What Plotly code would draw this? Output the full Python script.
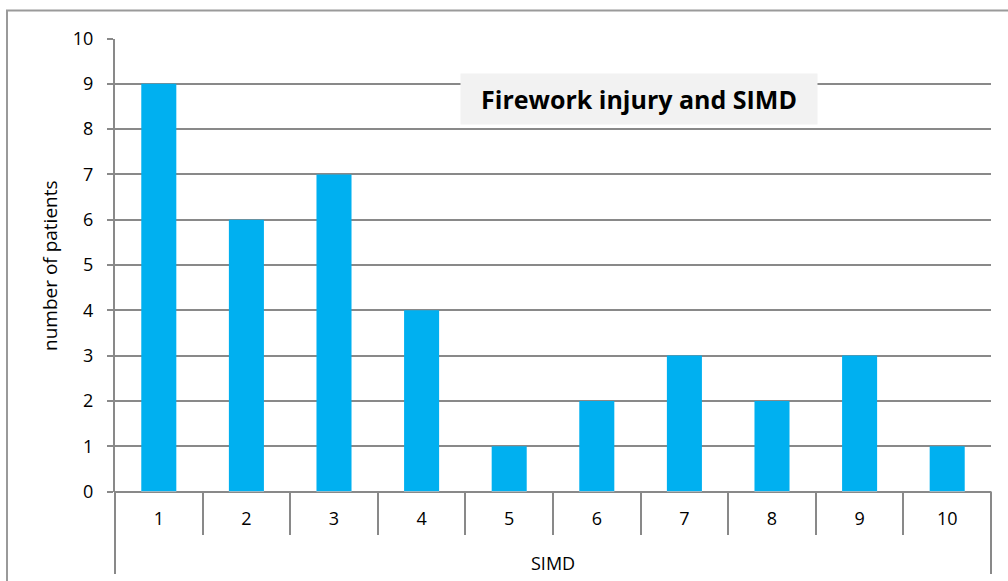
import plotly.graph_objects as go

# SIMD decile vs number of firework-injury patients
simd = ["1", "2", "3", "4", "5", "6", "7", "8", "9", "10"]
patients = [9, 6, 7, 4, 1, 2, 3, 2, 3, 1]
y_ticks = list(range(0, 11))

W, H = 1008, 581
GRID = "#898989"
FONT = "Open Sans, Liberation Sans, Arial, sans-serif"

# plot area in pixels
px_left, px_right = 115, 991
px_top, px_bottom = 38.5, 491.5


def fx(p):
    return p / W


def fy(p):
    return 1 - p / H


fig = go.Figure()
fig.add_trace(go.Bar(
    x=simd, y=patients,
    marker=dict(color="#00B0F0", line=dict(width=0)),
    width=0.4,
))
# invisible companion trace so the boundary-tick axis has data
fig.add_trace(go.Bar(x=simd, y=[0] * len(simd), xaxis="x2",
                     marker=dict(color="rgba(0,0,0,0)"), showlegend=False,
                     hoverinfo="skip"))

fig.update_layout(
    width=W, height=H,
    margin=dict(l=0, r=0, t=0, b=0, autoexpand=False),
    paper_bgcolor="white", plot_bgcolor="white",
    showlegend=False,
    font=dict(family=FONT, size=18, color="#000000"),
    xaxis=dict(
        domain=[fx(px_left), fx(px_right)],
        type="category", categoryorder="array", categoryarray=simd,
        showgrid=False, zeroline=False, showline=False,
        ticks="", ticklabelstandoff=14, automargin=False,
        tickfont=dict(size=18, family=FONT),
        anchor="y",
    ),
    xaxis2=dict(
        domain=[fx(px_left), fx(px_right)],
        type="category", categoryorder="array", categoryarray=simd,
        matches="x", overlaying="x", anchor="y",
        showgrid=False, zeroline=False, showline=False,
        showticklabels=False, automargin=False,
        ticks="outside", tickson="boundaries", ticklen=42,
        tickwidth=2, tickcolor=GRID,
    ),
    yaxis=dict(
        domain=[fy(px_bottom), fy(px_top)],
        range=[0, 10], tickvals=y_ticks,
        showgrid=True, gridcolor=GRID, gridwidth=2,
        zeroline=True, zerolinecolor=GRID, zerolinewidth=2,
        showline=True, linecolor=GRID, linewidth=2,
        ticks="outside", ticklen=6, tickwidth=2, tickcolor=GRID,
        ticklabelstandoff=10, automargin=False,
        tickfont=dict(size=18, family=FONT),
    ),
    bargap=0.6,
)

shapes = [
    # outer chart border
    dict(type="rect", xref="paper", yref="paper",
         x0=fx(7), x1=1.05, y0=-0.05, y1=fy(10.5),
         line=dict(color="#9a9a9a", width=2), fillcolor="rgba(0,0,0,0)",
         layer="below"),
    # category-axis frame below the plot
    dict(type="line", xref="paper", yref="paper",
         x0=fx(px_left), x1=fx(px_left), y0=fy(px_bottom), y1=fy(574),
         line=dict(color=GRID, width=2)),
    dict(type="line", xref="paper", yref="paper",
         x0=fx(px_right), x1=fx(px_right), y0=fy(px_bottom), y1=fy(574),
         line=dict(color=GRID, width=2)),
]
fig.update_layout(shapes=shapes)

fig.add_annotation(
    text="number of patients", xref="paper", yref="paper",
    x=fx(50), y=fy(266), textangle=-90,
    showarrow=False, font=dict(size=19, family=FONT),
    xanchor="center", yanchor="middle",
)
fig.add_annotation(
    text="SIMD", xref="paper", yref="paper",
    x=fx((px_left + px_right) / 2), y=fy(563),
    showarrow=False, font=dict(size=18, family=FONT),
    xanchor="center", yanchor="middle",
)
fig.add_annotation(
    text="<b>Firework injury and SIMD</b>", xref="paper", yref="paper",
    x=fx(639), y=fy(99), xanchor="center", yanchor="middle",
    showarrow=False, bgcolor="#f2f2f2", width=354, height=48,
    font=dict(size=25, family=FONT, color="#000000"),
)

fig.write_html("out.html")
